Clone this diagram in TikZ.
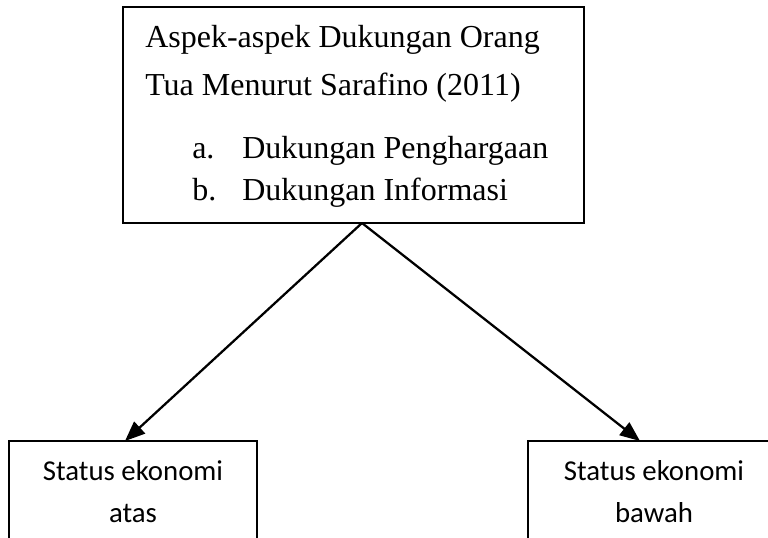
\documentclass[tikz,border=0pt]{standalone}
\usepackage{fontspec}
\setmainfont{Liberation Serif}
\newfontfamily\calfont{Carlito}
\usetikzlibrary{arrows.meta}
\begin{document}
\begin{tikzpicture}[x=0.75pt,y=-0.75pt,
  box/.style={draw, line width=1.7pt, inner sep=0pt, rectangle},
  serif/.style={font=\fontsize{24}{28}\selectfont, inner sep=0pt, anchor=base west},
  sans/.style={font=\calfont\fontsize{21.6}{26}\selectfont, inner sep=0pt, anchor=base},
  arr/.style={line width=1.7pt, -{Triangle[length=15pt,width=12pt]}}]
\useasboundingbox (0,0) rectangle (768,537);
\clip (0,0) rectangle (768,537);
\node[box, minimum width=345.75pt, minimum height=162pt] (top) at (353.5,115) {};
\node[box, minimum width=186pt, minimum height=104.25pt] (left) at (133,510.5) {};
\node[box, minimum width=189pt, minimum height=104.25pt] (right) at (654,510.5) {};
\node[serif] (t1) at (145,47) {Aspek-aspek Dukungan Orang};
\node[serif] (t2) at (145,95) {Tua Menurut Sarafino (2011)};
\node[serif] (la) at (192,158) {a.};
\node[serif] (ta) at (242,158) {Dukungan Penghargaan};
\node[serif] (lb) at (192,200) {b.};
\node[serif] (tb) at (242,200) {Dukungan Informasi};
\node[sans] (s1) at (133,480) {Status ekonomi};
\node[sans] (s2) at (133,522) {atas};
\node[sans] (s3) at (654,480) {Status ekonomi};
\node[sans] (s4) at (654,522) {bawah};
\coordinate (apex) at (362,223);
\coordinate (tipL) at (125,441);
\coordinate (tipR) at (640,441);
\draw[arr] (apex) -- (tipL);
\draw[arr] (apex) -- (tipR);
\end{tikzpicture}
\end{document}
